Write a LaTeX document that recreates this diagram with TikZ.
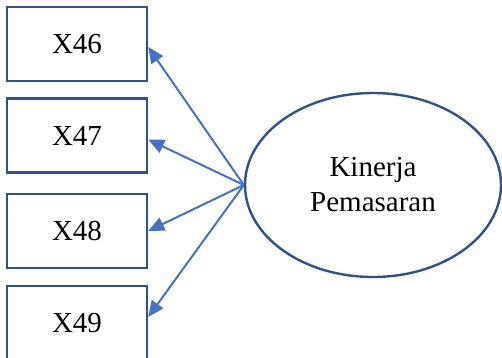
\documentclass[tikz,border=0pt]{standalone}
\usepackage{fontspec}
\setmainfont{Liberation Serif}
\usetikzlibrary{arrows.meta,shapes.geometric}
\definecolor{boxblue}{HTML}{2F528F}
\definecolor{linkblue}{HTML}{4472C4}
\begin{document}
\begin{tikzpicture}[x=1pt,y=-1pt,
  indicator/.style={draw=boxblue,line width=2.4pt,minimum width=140pt,minimum height=74pt,
    inner sep=0pt,font=\fontsize{29}{33}\selectfont},
  construct/.style={draw=boxblue,line width=2.4pt,ellipse,minimum width=256pt,minimum height=184pt,
    inner sep=0pt,align=center,font=\fontsize{29}{35}\selectfont},
  loading/.style={draw=linkblue,line width=2pt,-{Triangle[length=16pt,width=14pt]}}]
\useasboundingbox (0,0) rectangle (502,357);
\node[indicator] (x46) at (77,44) {X46};
\node[indicator] (x47) at (77,135.5) {X47};
\node[indicator] (x48) at (77,231) {X48};
\node[indicator] (x49) at (77,323) {X49};
\node[construct] (kp) at (373,185) {Kinerja\\Pemasaran};
\draw[loading] (kp.west) -- ([yshift=-3pt]x46.east);
\draw[loading] (kp.west) -- ([yshift=-4pt]x47.east);
\draw[loading] (kp.west) -- (x48.east);
\draw[loading] (kp.west) -- ([yshift=6pt]x49.east);
\end{tikzpicture}
\end{document}
